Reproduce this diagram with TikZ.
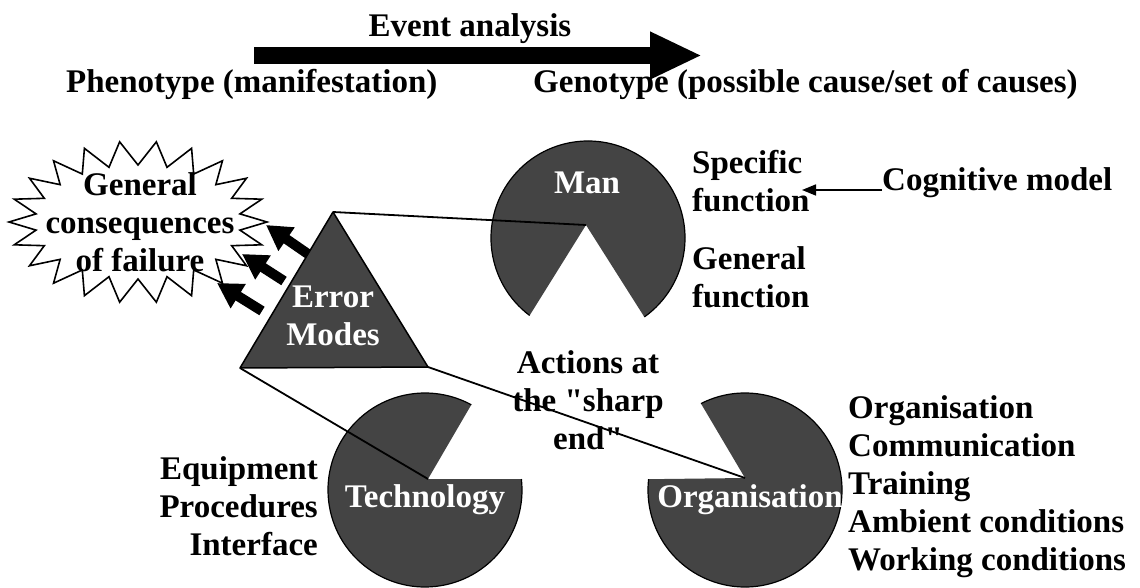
\documentclass[tikz,border=0pt]{standalone}
\usepackage{fontspec}
\setmainfont{Liberation Serif}[Ligatures=TeXOff]
\usetikzlibrary{arrows.meta,calc}
\definecolor{piegray}{RGB}{68,68,68}
\begin{document}
\begin{tikzpicture}[x=1pt,y=-1pt,
  lbl/.style={font=\fontsize{33}{38}\selectfont\bfseries, inner sep=0pt},
  wlbl/.style={lbl, text=white},
  pie/.style={fill=piegray},
  rim/.style={draw=black, line width=1.2pt},
  link/.style={draw=black, line width=1.8pt},
  fat/.style={line width=10pt, -{Triangle[length=25pt,width=27pt]}},
  bigarrow/.style={line width=17pt, -{Triangle[length=52pt,width=44pt]}},
  thinarrow/.style={line width=1.6pt, -{Triangle[length=14pt,width=11pt]}},
  burst/.style={draw=black, line width=1.6pt, fill=white, line join=miter}]
\useasboundingbox (0,0) rectangle (1140,588);

% ---- event analysis arrow and headings
\coordinate (evS) at (254,55.5);
\coordinate (evE) at (702,55.5);
\draw[bigarrow] (evS) -- (evE);
\node[lbl, anchor=base] (ev) at (470,37) {Event analysis};
\node[lbl, anchor=base west] (pheno) at (66,93) {Phenotype (manifestation)};
\node[lbl, anchor=base west] (geno) at (533,93) {Genotype (possible cause/set of causes)};

% ---- starburst of consequences
\draw[burst] (267,222)
  \foreach \i in {0,...,21} {
    -- ({138+103*cos((\i+0.5)*360/22)},{222+57*sin((\i+0.5)*360/22)})
    -- ({138+129*cos((\i+1)*360/22)},{222+81*sin((\i+1)*360/22)})
  } -- cycle;
\node[lbl, align=center] (burst) at (140,222) {General\\consequences\\of failure};

% ---- error modes triangle
\coordinate (triA) at (333,212);
\coordinate (triL) at (240,368);
\coordinate (triR) at (428,367);
\draw[fill=piegray, draw=black, line width=1.5pt, line join=round] (triA) -- (triL) -- (triR) -- cycle;
\node[wlbl, align=center] (err) at (333,316) {Error\\Modes};

% ---- arrows from the error modes to the consequences
\coordinate (f1s) at (308,254); \coordinate (f1e) at (266,225);
\coordinate (f2s) at (284,281); \coordinate (f2e) at (242,254);
\coordinate (f3s) at (262,311); \coordinate (f3e) at (217,283);
\draw[fat] (f1s) -- (f1e);
\draw[fat] (f2s) -- (f2e);
\draw[fat] (f3s) -- (f3e);

% ---- Man
\coordinate (manC) at (588,238);
\coordinate (manV) at (586,225);
\fill[pie] (manV) -- ($(manC)+(127:97)$) arc[start angle=127, end angle=414.5, radius=97] -- cycle;
\draw[rim] ($(manC)+(127:97)$) arc[start angle=127, end angle=414.5, radius=97];
\node[wlbl] (man) at (587,183) {Man};

% ---- Technology
\coordinate (techC) at (425,490);
\coordinate (techV) at (428,479);
\fill[pie] (techV) -- ($(techC)+(-6.5:97)$) arc[start angle=-6.5, end angle=298.5, radius=97] -- cycle;
\draw[rim] ($(techC)+(-6.5:97)$) arc[start angle=-6.5, end angle=298.5, radius=97];
\node[wlbl] (tech) at (425,500) {Technology};

% ---- Organisation
\coordinate (orgC) at (745,490);
\coordinate (orgV) at (745,478);
\fill[pie] (orgV) -- ($(orgC)+(243:97)$) arc[start angle=243, end angle=546.4, radius=97] -- cycle;
\draw[rim] ($(orgC)+(243:97)$) arc[start angle=243, end angle=546.4, radius=97];
\node[wlbl] (org) at (750,500) {Organisation};

% ---- side labels
\node[lbl, anchor=west, align=left] (spec) at (692,181) {Specific\\function};
\node[lbl, anchor=west, align=left] (gen) at (692,277) {General\\function};
\node[lbl, anchor=base west] (cog) at (882,190) {Cognitive model};
\coordinate (cogTip) at (802,190);
\draw[thinarrow] (cog.west |- cogTip) -- (cogTip);

\node[lbl, align=center] (sharp) at (588,400) {Actions at\\the "sharp\\end"};
\node[lbl, anchor=east, align=right] (tlist) at (318,506) {Equipment\\Procedures\\Interface};
\node[lbl, anchor=west, align=left] (olist) at (848,487) {Organisation\\Communication\\Training\\Ambient conditions\\Working conditions};

% ---- links from the triangle to the three sources
\draw[link] (triA) -- (manV);
\draw[link] (triL) -- (techV);
\draw[link] (triR) -- (orgV);
\end{tikzpicture}
\end{document}
